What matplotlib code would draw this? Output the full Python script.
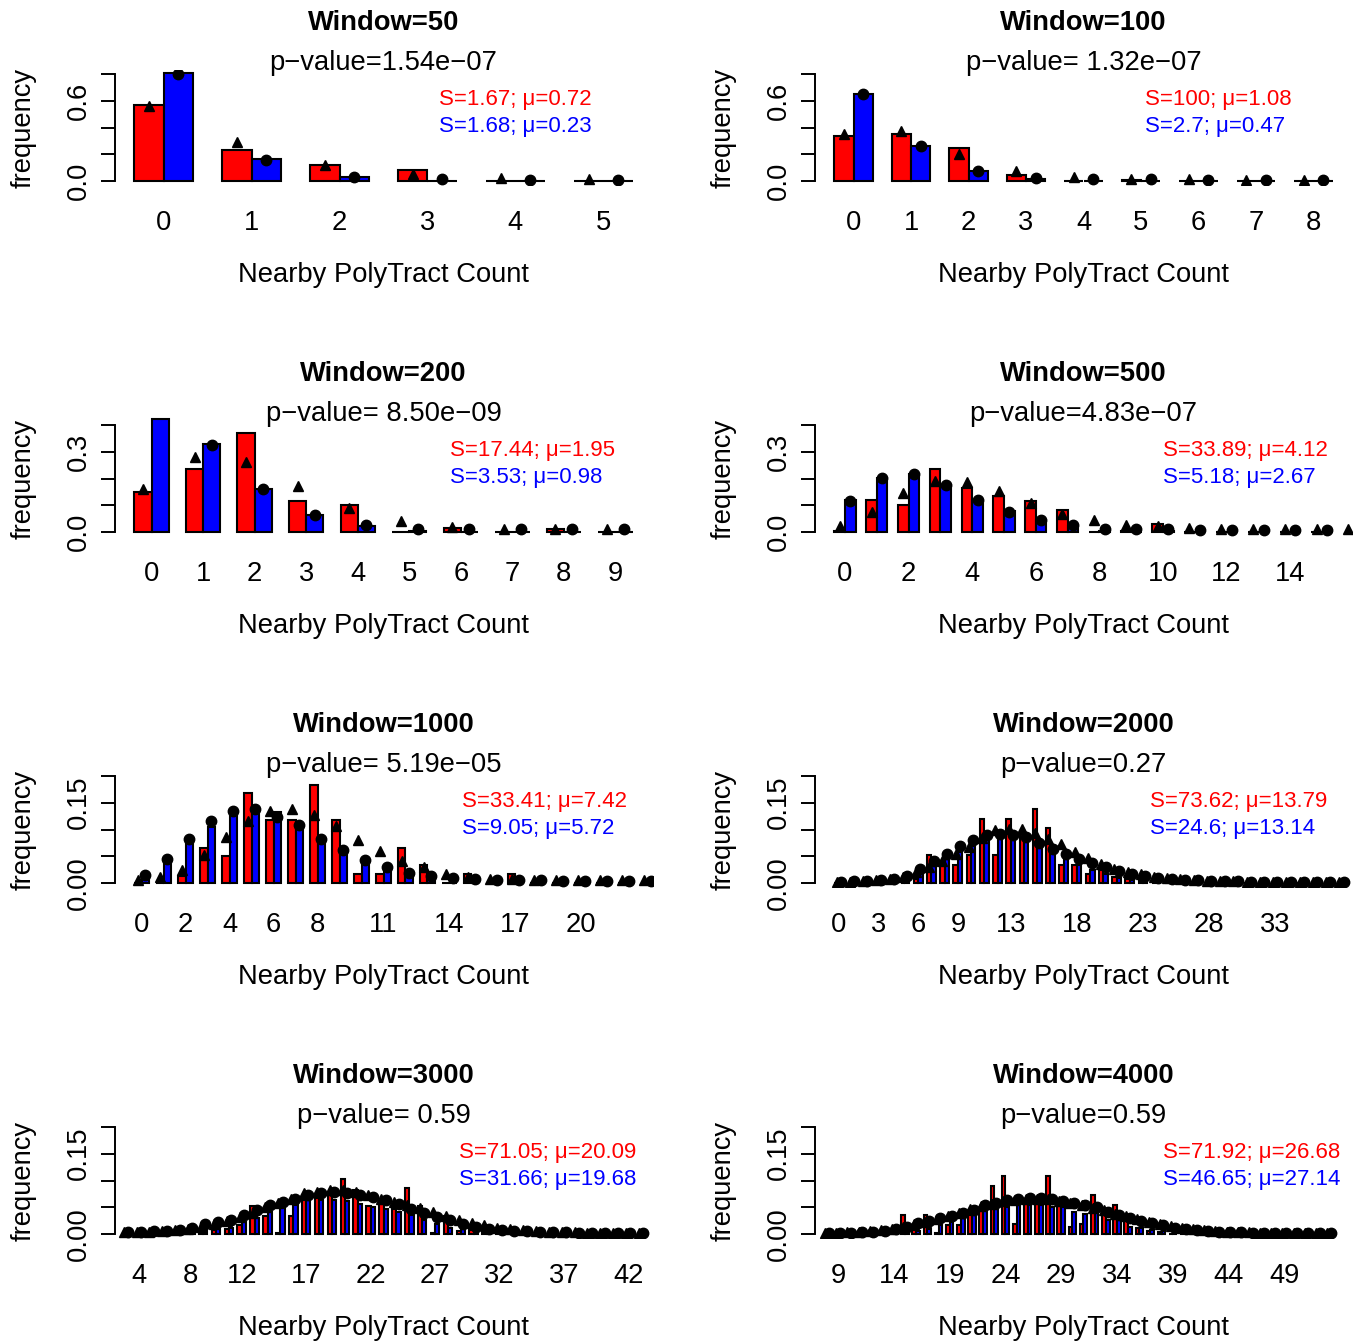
import matplotlib
matplotlib.use("Agg")
import matplotlib.pyplot as plt

plt.rcParams['font.family'] = ['Liberation Sans', 'DejaVu Sans']

FW, FH = 1366, 1342

windows = [50, 100, 200, 500, 1000, 2000, 3000, 4000]
pvalues = ["p\u2212value=1.54e\u221207", "p\u2212value= 1.32e\u221207",
           "p\u2212value= 8.50e\u221209", "p\u2212value=4.83e\u221207",
           "p\u2212value= 5.19e\u221205", "p\u2212value=0.27",
           "p\u2212value= 0.59", "p\u2212value=0.59"]
stats_red = ["S=1.67; \u03bc=0.72", "S=100; \u03bc=1.08", "S=17.44; \u03bc=1.95",
             "S=33.89; \u03bc=4.12", "S=33.41; \u03bc=7.42", "S=73.62; \u03bc=13.79",
             "S=71.05; \u03bc=20.09", "S=71.92; \u03bc=26.68"]
stats_blue = ["S=1.68; \u03bc=0.23", "S=2.7; \u03bc=0.47", "S=3.53; \u03bc=0.98",
              "S=5.18; \u03bc=2.67", "S=9.05; \u03bc=5.72", "S=24.6; \u03bc=13.14",
              "S=31.66; \u03bc=19.68", "S=46.65; \u03bc=27.14"]

# first count of the bars and of the fitted points
first_count = [0, 0, 0, 0, 0, 0, 4, 9]
first_fit = [0, 0, 0, 0, 0, 0, 3, 8]
shown_counts = [
    [0, 1, 2, 3, 4, 5],
    [0, 1, 2, 3, 4, 5, 6, 7, 8],
    [0, 1, 2, 3, 4, 5, 6, 7, 8, 9],
    [0, 2, 4, 6, 8, 10, 12, 14],
    [0, 2, 4, 6, 8, 11, 14, 17, 20],
    [0, 3, 6, 9, 13, 18, 23, 28, 33],
    [4, 8, 12, 17, 22, 27, 32, 37, 42],
    [9, 14, 19, 24, 29, 34, 39, 44, 49],
]
ytop = [0.8, 0.8, 0.4, 0.4, 0.2, 0.2, 0.2, 0.2]
ylabels = [["0.0", "0.6"], ["0.0", "0.6"], ["0.0", "0.3"], ["0.0", "0.3"],
           ["0.00", "0.15"], ["0.00", "0.15"], ["0.00", "0.15"], ["0.00", "0.15"]]

# observed frequencies (red / blue bars) and fitted values (triangles / circles)
red50 = [0.567, 0.235, 0.118, 0.085, 0.0, 0.0]
blue50 = [0.81, 0.165, 0.028, 0.003, 0.0, 0.0]
tri50 = [0.56, 0.29, 0.12, 0.05, 0.02, 0.015, 0.01]
circ50 = [0.80, 0.16, 0.03, 0.012, 0.01, 0.01, 0.01]

red100 = [0.335, 0.355, 0.25, 0.0475, 0.0, 0.005, 0.0, 0.0, 0.0]
blue100 = [0.65, 0.2625, 0.0725, 0.015, 0.0, 0.0, 0.0, 0.0, 0.0]
tri100 = [0.35, 0.375, 0.20, 0.075, 0.03, 0.015, 0.012, 0.01, 0.01, 0.01]
circ100 = [0.65, 0.26, 0.0725, 0.02, 0.015, 0.012, 0.01, 0.01, 0.01, 0.01]

red200 = [0.15, 0.234, 0.369, 0.116, 0.10, 0.0, 0.016, 0.0, 0.0125, 0.0]
blue200 = [0.4225, 0.329, 0.159, 0.0625, 0.021, 0.003, 0.0, 0.0, 0.0, 0.0]
tri200 = [0.1625, 0.28, 0.26, 0.171, 0.09, 0.04, 0.019, 0.011, 0.012, 0.01]
circ200 = [0.45, 0.325, 0.159, 0.0625, 0.025, 0.0125, 0.01, 0.01, 0.01, 0.01]

red500 = [0.003, 0.119, 0.10, 0.234, 0.166, 0.134, 0.116, 0.084, 0.0, 0.005,
          0.031, 0.0, 0.0, 0.0, 0.0, 0.0]
blue500 = [0.119, 0.2025, 0.215, 0.175, 0.121, 0.079, 0.044, 0.021, 0.002, 0.0,
           0.003, 0.0, 0.0, 0.0, 0.0, 0.0]
tri500 = [0.021, 0.075, 0.146, 0.19, 0.1875, 0.1525, 0.11, 0.069, 0.044, 0.025,
          0.021, 0.014, 0.012, 0.011, 0.01, 0.01, 0.01]
circ500 = [0.116, 0.2025, 0.216, 0.175, 0.121, 0.075, 0.044, 0.025, 0.0125, 0.01,
           0.01, 0.009, 0.008, 0.008, 0.008, 0.008, 0.008]

red1000 = [0.0, 0.0, 0.014, 0.066, 0.05, 0.1675, 0.1175, 0.1175, 0.184, 0.1175,
           0.016, 0.016, 0.066, 0.033, 0.0, 0.016, 0.0, 0.016, 0.0, 0.0, 0.0, 0.0, 0.0]
blue1000 = [0.016, 0.047, 0.08, 0.104, 0.125, 0.138, 0.133, 0.11, 0.083, 0.0625,
            0.0425, 0.03, 0.02, 0.014, 0.0, 0.0, 0.0, 0.0, 0.0, 0.0, 0.0, 0.0, 0.0]
tri1000 = [0.006, 0.011, 0.024, 0.052, 0.086, 0.116, 0.135, 0.1375, 0.127, 0.106,
           0.081, 0.06, 0.041, 0.03, 0.016, 0.011, 0.008, 0.007, 0.006, 0.005,
           0.005, 0.005, 0.005, 0.005]
circ1000 = [0.015, 0.044, 0.082, 0.116, 0.135, 0.138, 0.124, 0.108, 0.082, 0.061,
            0.0425, 0.029, 0.019, 0.013, 0.009, 0.007, 0.006, 0.005, 0.005, 0.004,
            0.004, 0.004, 0.004, 0.004]

red2000 = [0.0, 0.0, 0.0, 0.0, 0.0, 0.0, 0.008, 0.052, 0.033, 0.033, 0.052, 0.120,
           0.052, 0.120, 0.098, 0.139, 0.103, 0.033, 0.033, 0.017, 0.024, 0.012,
           0.008, 0.004, 0.0, 0.0, 0.0, 0.0, 0.0, 0.0, 0.0, 0.0, 0.0, 0.0, 0.0,
           0.0, 0.0, 0.0]
blue2000 = [0.0, 0.0, 0.0, 0.0, 0.0, 0.005, 0.017, 0.039, 0.045, 0.058, 0.070,
            0.080, 0.098, 0.092, 0.089, 0.067, 0.058, 0.045, 0.033, 0.024, 0.016,
            0.010, 0.005, 0.002, 0.0, 0.0, 0.0, 0.0, 0.0, 0.0, 0.0, 0.0, 0.0, 0.0,
            0.0, 0.0, 0.0, 0.0]
tri2000 = [0.001, 0.002, 0.003, 0.005, 0.008, 0.012, 0.02, 0.03, 0.042, 0.055,
           0.068, 0.085, 0.099, 0.101, 0.101, 0.093, 0.083, 0.072, 0.058, 0.046,
           0.036, 0.027, 0.021, 0.016, 0.012, 0.009, 0.007, 0.005, 0.004, 0.003,
           0.003, 0.002, 0.002, 0.002, 0.002, 0.002, 0.002, 0.002, 0.002]
circ2000 = [0.002, 0.003, 0.004, 0.006, 0.008, 0.014, 0.027, 0.041, 0.055, 0.070,
            0.081, 0.089, 0.092, 0.089, 0.086, 0.075, 0.064, 0.055, 0.044, 0.037,
            0.029, 0.022, 0.017, 0.013, 0.010, 0.008, 0.006, 0.005, 0.004, 0.003,
            0.003, 0.002, 0.002, 0.002, 0.002, 0.002, 0.002, 0.002, 0.002]

red3000 = [0.0, 0.0, 0.0, 0.0, 0.002, 0.006, 0.008, 0.01, 0.016, 0.052, 0.033,
           0.002, 0.033, 0.064, 0.068, 0.072, 0.103, 0.083, 0.052, 0.057, 0.047,
           0.086, 0.052, 0.002, 0.033, 0.005, 0.008, 0.003, 0.0, 0.004, 0.0, 0.0,
           0.0, 0.0, 0.0, 0.0, 0.0, 0.0, 0.0]
blue3000 = [0.0, 0.0, 0.0, 0.002, 0.004, 0.008, 0.012, 0.012, 0.022, 0.029, 0.041,
            0.054, 0.055, 0.064, 0.063, 0.064, 0.062, 0.057, 0.05, 0.047, 0.041,
            0.035, 0.026, 0.018, 0.012, 0.012, 0.005, 0.003, 0.0, 0.0, 0.0, 0.0,
            0.0, 0.0, 0.0, 0.0, 0.0, 0.0, 0.0]
tri3000 = [0.003, 0.003, 0.004, 0.005, 0.007, 0.01, 0.014, 0.019, 0.025, 0.032,
           0.04, 0.05, 0.058, 0.066, 0.077, 0.079, 0.083, 0.082, 0.078, 0.072,
           0.066, 0.06, 0.054, 0.048, 0.041, 0.034, 0.027, 0.021, 0.016, 0.012,
           0.009, 0.007, 0.005, 0.004, 0.003, 0.003, 0.002, 0.002, 0.002, 0.002,
           0.002]
circ3000 = [0.003, 0.004, 0.005, 0.006, 0.008, 0.012, 0.019, 0.022, 0.027, 0.035,
            0.044, 0.054, 0.06, 0.066, 0.072, 0.077, 0.079, 0.077, 0.072, 0.069,
            0.064, 0.057, 0.047, 0.039, 0.032, 0.026, 0.019, 0.014, 0.01, 0.008,
            0.006, 0.005, 0.004, 0.003, 0.003, 0.002, 0.002, 0.002, 0.002, 0.002,
            0.002]

red4000 = [0.0, 0.0, 0.0, 0.0, 0.002, 0.004, 0.035, 0.008, 0.035, 0.002, 0.016,
           0.016, 0.035, 0.044, 0.089, 0.108, 0.018, 0.057, 0.057, 0.108, 0.052,
           0.014, 0.019, 0.072, 0.047, 0.054, 0.026, 0.012, 0.005, 0.004, 0.0,
           0.0, 0.004, 0.005, 0.0, 0.0, 0.0, 0.0, 0.0, 0.0, 0.0, 0.0, 0.0, 0.0,
           0.0]
blue4000 = [0.0, 0.0, 0.0, 0.0, 0.002, 0.004, 0.012, 0.006, 0.01, 0.016, 0.022,
            0.031, 0.035, 0.047, 0.047, 0.05, 0.054, 0.054, 0.054, 0.05, 0.05,
            0.041, 0.038, 0.041, 0.026, 0.026, 0.014, 0.012, 0.008, 0.005, 0.004,
            0.0, 0.0, 0.0, 0.0, 0.0, 0.0, 0.0, 0.0, 0.0, 0.0, 0.0, 0.0, 0.0,
            0.0]
tri4000 = [0.002, 0.002, 0.003, 0.004, 0.005, 0.007, 0.01, 0.014, 0.018, 0.023,
           0.028, 0.034, 0.04, 0.046, 0.052, 0.057, 0.061, 0.064, 0.066, 0.066,
           0.065, 0.062, 0.058, 0.054, 0.049, 0.044, 0.038, 0.033, 0.028, 0.023,
           0.019, 0.015, 0.012, 0.009, 0.007, 0.005, 0.004, 0.003, 0.003, 0.002,
           0.002, 0.002, 0.001, 0.001, 0.001, 0.001]
circ4000 = [0.002, 0.002, 0.002, 0.003, 0.004, 0.006, 0.009, 0.014, 0.02, 0.025,
            0.029, 0.034, 0.04, 0.045, 0.054, 0.058, 0.063, 0.066, 0.067, 0.068,
            0.066, 0.062, 0.058, 0.054, 0.05, 0.042, 0.035, 0.029, 0.025, 0.021,
            0.016, 0.012, 0.009, 0.007, 0.005, 0.004, 0.003, 0.003, 0.002, 0.002,
            0.002, 0.002, 0.001, 0.001, 0.001, 0.001]

reds = [red50, red100, red200, red500, red1000, red2000, red3000, red4000]
blues = [blue50, blue100, blue200, blue500, blue1000, blue2000, blue3000, blue4000]
tris = [tri50, tri100, tri200, tri500, tri1000, tri2000, tri3000, tri4000]
circs = [circ50, circ100, circ200, circ500, circ1000, circ2000, circ3000, circ4000]

# left edge (pixels) of the S / mu legend text in each panel
stat_x = [439, 1145, 450, 1163, 462, 1150, 459, 1163]

FS = 19.7
FS_STAT = 16.0

fig = plt.figure(figsize=(FW / 100, FH / 100), dpi=100)


def fx(x):
    return x / FW


def fy(y):
    return 1 - y / FH


for i in range(8):
    row, col = divmod(i, 2)
    left = 114.5 + 700 * col
    width = 538.0
    y0 = 181 + 351 * row
    T = ytop[i]
    bottom_px = y0 + 0.04 * 107
    height_px = 1.08 * 107
    ax = fig.add_axes([fx(left), fy(bottom_px), width / FW, height_px / FH])

    red, blue = reds[i], blues[i]
    n = len(red)
    xs_red = [1 + 3 * k for k in range(n)]
    xs_blue = [2 + 3 * k for k in range(n)]
    ax.bar(xs_red, red, width=1, align='edge', color='#FF0000',
           edgecolor='black', linewidth=1.5, clip_on=False, zorder=2)
    ax.bar(xs_blue, blue, width=1, align='edge', color='#0000FF',
           edgecolor='black', linewidth=1.5, clip_on=False, zorder=2)

    tri, circ = tris[i], circs[i]
    shift = first_fit[i] - first_count[i]
    ax.plot([1.5 + 3 * (k + shift) for k in range(len(tri))], tri, '^',
            color='black', ms=7.5, ls='none', zorder=3)
    ax.plot([2.5 + 3 * (k + shift) for k in range(len(circ))], circ, 'o',
            color='black', ms=7.5, ls='none', zorder=4)

    span = 3 * n - 1
    ax.set_xlim(1 - 0.04 * span, 3 * n + 0.04 * span)
    ax.set_ylim(-0.04 * T, 1.04 * T)

    for s in ['top', 'right', 'bottom']:
        ax.spines[s].set_visible(False)
    ax.spines['left'].set_bounds(0, T)
    ax.spines['left'].set_linewidth(1.4)

    ticks = [T * q / 4 for q in range(5)]
    labs = [ylabels[i][0], '', '', ylabels[i][1], '']
    ax.set_yticks(ticks, labs)
    ax.tick_params(axis='y', length=10, width=1.4, pad=16, labelsize=FS)
    for lab in ax.get_yticklabels():
        lab.set_rotation(90)
        lab.set_ha('center')
        lab.set_va('center')

    first = first_count[i]
    ax.set_xticks([2 + 3 * (c - first) for c in shown_counts[i]],
                  [str(c) for c in shown_counts[i]])
    ax.tick_params(axis='x', length=0, pad=17.6, labelsize=FS)

    ax.set_xlabel("Nearby PolyTract Count", fontsize=FS)
    ax.xaxis.set_label_coords(0.5, -76.8 / height_px)
    ax.set_ylabel("frequency", fontsize=FS)
    ax.yaxis.set_label_coords((37 - 114.5) / width, 0.5)

    cx = left + width / 2
    fig.text(fx(cx), fy(y0 - 151), "Window=%d" % windows[i], ha='center',
             va='baseline', fontsize=FS, fontweight='bold')
    fig.text(fx(cx), fy(y0 - 111), pvalues[i], ha='center', va='baseline',
             fontsize=FS)
    fig.text(fx(stat_x[i]), fy(y0 - 75.6), stats_red[i], ha='left',
             va='baseline', fontsize=FS_STAT, color='#FF0000')
    fig.text(fx(stat_x[i]), fy(y0 - 48.6), stats_blue[i], ha='left',
             va='baseline', fontsize=FS_STAT, color='#0000FF')

fig.savefig("out.png", dpi=100)
